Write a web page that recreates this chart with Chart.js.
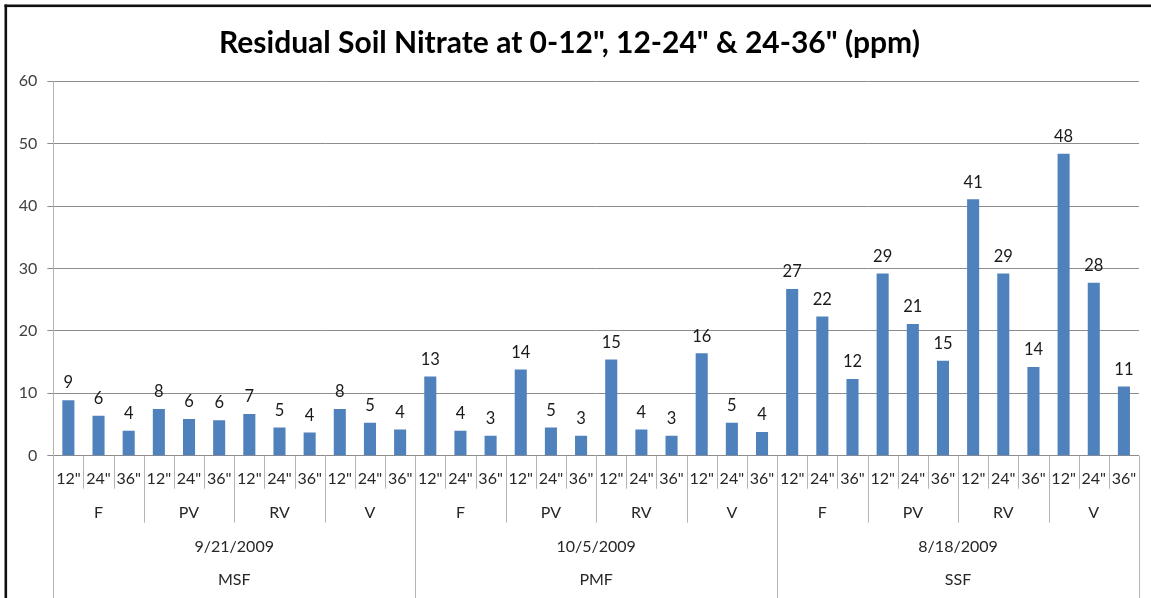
<!DOCTYPE html>
<html>
<head>
<meta charset="utf-8">
<script src="https://cdn.jsdelivr.net/npm/chart.js@4/dist/chart.umd.min.js"></script>
<style>
  html, body { margin: 0; padding: 0; background: #ffffff; }
  #wrap { width: 1151px; height: 598px; position: relative; }
</style>
</head>
<body>
<div id="wrap"><canvas id="chart" width="1151" height="598"></canvas></div>
<script>
// Category hierarchy along the x axis (innermost first)
const depths = ['12"', '24"', '36"'];
const treatments = ['F', 'PV', 'RV', 'V'];
const dates = ['9/21/2009', '10/5/2009', '8/18/2009'];
const sites = ['MSF', 'PMF', 'SSF'];

// Residual soil nitrate (ppm), per site, treatment F/PV/RV/V, depths 12/24/36"
const msfValues = [8.9, 6.4, 4.0,  7.5, 5.9, 5.7,  6.7, 4.5, 3.7,  7.5, 5.3, 4.2];
const pmfValues = [12.7, 4.0, 3.2, 13.8, 4.5, 3.2, 15.4, 4.2, 3.2, 16.4, 5.3, 3.8];
const ssfValues = [26.7, 22.3, 12.3, 29.2, 21.1, 15.2, 41.1, 29.2, 14.2, 48.4, 27.7, 11.1];

// Y axis ticks
const yTicks = [0, 10, 20, 30, 40, 50, 60];

const titleText = 'Residual Soil Nitrate at 0-12", 12-24" & 24-36" (ppm)';
const FONT = 'Lato, "Open Sans", sans-serif';

// Build the flat category list (one per bar)
const labels = [];
sites.forEach(() => treatments.forEach(() => depths.forEach(d => labels.push(d))));
const values = [].concat(msfValues, pmfValues, ssfValues);

// Outer frame lines (left and top)
const framePlugin = {
  id: 'frame',
  beforeDraw(chart) {
    const ctx = chart.ctx;
    ctx.save();
    ctx.fillStyle = '#ffffff';
    ctx.fillRect(0, 0, chart.width, chart.height);
    ctx.fillStyle = '#111111';
    ctx.fillRect(4.5, 4.5, 2.6, chart.height);
    ctx.fillRect(4.5, 4.5, chart.width, 2.6);
    ctx.restore();
  }
};

// Multi-level category axis: separators and group labels under the plot
const groupAxisPlugin = {
  id: 'groupAxis',
  afterDraw(chart) {
    const xs = chart.scales.x;
    const ctx = chart.ctx;
    const n = labels.length;
    const step = xs.getPixelForValue(1) - xs.getPixelForValue(0);
    const edge = i => (i < n ? xs.getPixelForValue(i) - step / 2 : xs.getPixelForValue(n - 1) + step / 2);
    const top = xs.top;
    const perTreat = depths.length;
    const perDate = depths.length * treatments.length;

    ctx.save();
    ctx.strokeStyle = '#b4b4b4';
    ctx.lineWidth = 1;
    for (let i = 0; i <= n; i++) {
      let bottom;
      if (i % perDate === 0) bottom = chart.height;
      else if (i % perTreat === 0) bottom = top + 67;
      else bottom = top + 33;
      const x = Math.round(edge(i)) + 0.5;
      ctx.beginPath();
      ctx.moveTo(x, top);
      ctx.lineTo(x, bottom);
      ctx.stroke();
    }

    ctx.fillStyle = '#262626';
    ctx.textAlign = 'center';
    ctx.textBaseline = 'middle';
    ctx.font = '16px ' + FONT;
    // depth row
    for (let i = 0; i < n; i++) {
      ctx.fillText(labels[i], xs.getPixelForValue(i), top + 23);
    }
    // treatment row
    for (let g = 0; g < n / perTreat; g++) {
      const cx = (edge(g * perTreat) + edge((g + 1) * perTreat)) / 2;
      ctx.fillText(treatments[g % treatments.length], cx, top + 57);
    }
    // date and site rows
    for (let g = 0; g < n / perDate; g++) {
      const cx = (edge(g * perDate) + edge((g + 1) * perDate)) / 2;
      ctx.fillText(dates[g], cx, top + 91);
      ctx.fillText(sites[g], cx, top + 124);
    }
    ctx.restore();
  }
};

// Value labels above each bar
const valueLabelPlugin = {
  id: 'valueLabels',
  afterDatasetsDraw(chart) {
    const ctx = chart.ctx;
    const meta = chart.getDatasetMeta(0);
    ctx.save();
    ctx.fillStyle = '#1a1a1a';
    ctx.font = '16.5px ' + FONT;
    ctx.textAlign = 'center';
    ctx.textBaseline = 'middle';
    meta.data.forEach((bar, i) => {
      const v = chart.data.datasets[0].data[i];
      ctx.fillText(String(Math.round(v)), bar.x, bar.y - 17);
    });
    ctx.restore();
  }
};

new Chart(document.getElementById('chart'), {
  type: 'bar',
  data: {
    labels: labels,
    datasets: [{
      label: 'Nitrate (ppm)',
      data: values,
      backgroundColor: '#4F81BD',
      borderWidth: 0,
      categoryPercentage: 1.0,
      barPercentage: 0.4
    }]
  },
  options: {
    responsive: false,
    animation: false,
    events: [],
    layout: { padding: { left: 0, right: 12, top: 0, bottom: 0 } },
    plugins: {
      legend: { display: false },
      tooltip: { enabled: false },
      title: {
        display: true,
        text: titleText,
        color: '#000000',
        font: { family: FONT, size: 30, weight: 'bold', lineHeight: 1.2 },
        padding: { top: 25, bottom: 20.3 }
      }
    },
    scales: {
      x: {
        type: 'category',
        grid: { display: false },
        border: { display: false },
        ticks: { display: false },
        afterFit(scale) { scale.height = 142.3; }
      },
      y: {
        min: 0,
        max: 60,
        afterBuildTicks(scale) { scale.ticks = yTicks.map(v => ({ value: v })); },
        ticks: {
          color: '#404040',
          font: { family: FONT, size: 16 },
          padding: 10
        },
        grid: {
          color: '#8c8c8c',
          lineWidth: 1,
          tickLength: 6
        },
        border: { display: true, color: '#b4b4b4', width: 1 },
        afterFit(scale) { scale.width = 53.3; }
      }
    }
  },
  plugins: [framePlugin, groupAxisPlugin, valueLabelPlugin]
});
</script>
</body>
</html>
